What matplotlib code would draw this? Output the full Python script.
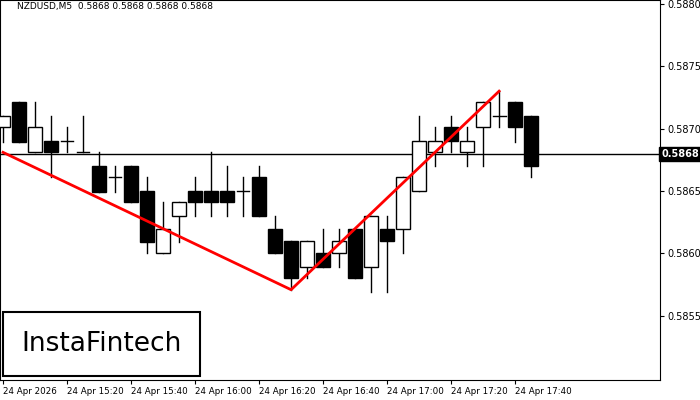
import matplotlib.pyplot as plt
from matplotlib.patches import Rectangle

# NZDUSD M5 candles
opens = [0.58701, 0.58721, 0.58681, 0.58690, 0.58690, 0.58681, 0.58670, 0.58661, 0.58670, 0.58650,
         0.58600, 0.58630, 0.58650, 0.58650, 0.58650, 0.58650, 0.58661, 0.58620, 0.58610, 0.58589,
         0.58600, 0.58600, 0.58620, 0.58589, 0.58620, 0.58620, 0.58650, 0.58681, 0.58701, 0.58681,
         0.58701, 0.58710, 0.58721, 0.58710]
highs = [0.58710, 0.58721, 0.58721, 0.58710, 0.58701, 0.58710, 0.58681, 0.58670, 0.58670, 0.58661,
         0.58641, 0.58641, 0.58661, 0.58681, 0.58670, 0.58661, 0.58670, 0.58630, 0.58610, 0.58610,
         0.58620, 0.58620, 0.58620, 0.58630, 0.58630, 0.58661, 0.58710, 0.58701, 0.58710, 0.58701,
         0.58721, 0.58730, 0.58721, 0.58710]
lows = [0.58689, 0.58689, 0.58681, 0.58661, 0.58681, 0.58681, 0.58649, 0.58649, 0.58641, 0.58600,
        0.58600, 0.58609, 0.58630, 0.58630, 0.58630, 0.58630, 0.58630, 0.58600, 0.58571, 0.58580,
        0.58589, 0.58589, 0.58580, 0.58569, 0.58569, 0.58600, 0.58650, 0.58670, 0.58681, 0.58670,
        0.58670, 0.58701, 0.58689, 0.58661]
closes = [0.58710, 0.58689, 0.58701, 0.58681, 0.58690, 0.58681, 0.58649, 0.58661, 0.58641, 0.58609,
          0.58620, 0.58641, 0.58641, 0.58641, 0.58641, 0.58650, 0.58630, 0.58600, 0.58580, 0.58610,
          0.58589, 0.58610, 0.58580, 0.58630, 0.58610, 0.58661, 0.58690, 0.58690, 0.58690, 0.58690,
          0.58721, 0.58710, 0.58701, 0.58670]

# pattern lines (bar index, price)
pattern_x = [0, 18, 31]
pattern_y = [0.58681, 0.58571, 0.58730]

current_price = 0.5868
price_ticks = [0.5855, 0.5860, 0.5865, 0.5870, 0.5875, 0.5880]
time_pos = [0, 4, 8, 12, 16, 20, 24, 28, 32]
time_labels = ['24 Apr 2026', '24 Apr 15:20', '24 Apr 15:40', '24 Apr 16:00', '24 Apr 16:20',
               '24 Apr 16:40', '24 Apr 17:00', '24 Apr 17:20', '24 Apr 17:40']

fig = plt.figure(figsize=(7, 4), dpi=100)
ax = fig.add_axes([0.0, 0.05, 0.943, 0.95])
ax.set_xlim(-0.19, 41.06)
ax.set_ylim(0.584987, 0.58803)

for i in range(len(opens)):
    o, h, l, c = opens[i], highs[i], lows[i], closes[i]
    ax.plot([i, i], [l, h], color='black', lw=1, zorder=2)
    lo, hi = min(o, c), max(o, c)
    if hi - lo < 0.000005:
        ax.plot([i - 0.4, i + 0.4], [o, o], color='black', lw=1, zorder=3)
    else:
        ax.add_patch(Rectangle((i - 0.45, lo), 0.9, hi - lo, facecolor='white' if c > o else 'black',
                               edgecolor='black', lw=1, zorder=3))

ax.axhline(current_price, color='black', lw=1, zorder=1)
ax.plot(pattern_x, pattern_y, color='#ff0000', lw=2, zorder=4)

ax.yaxis.tick_right()
ax.set_yticks(price_ticks)
ax.set_yticklabels(['%.4f' % p for p in price_ticks])
ax.set_xticks(time_pos)
ax.set_xticklabels(time_labels, ha='left')
ax.tick_params(axis='y', labelsize=7, length=3, direction='out', pad=2)
ax.tick_params(axis='x', labelsize=6.3, length=3, direction='out', pad=2)
ax.text(1.002, current_price, '%.4f' % current_price, transform=ax.get_yaxis_transform(),
        fontsize=7, color='white', va='center', ha='left', fontweight='bold',
        bbox=dict(boxstyle='square,pad=0.2', facecolor='black', edgecolor='black'))
ax.text(0.025, 0.995, 'NZDUSD,M5  0.5868 0.5868 0.5868 0.5868', transform=ax.transAxes,
        fontsize=6.5, va='top', ha='left')

# logo
ax.add_patch(Rectangle((0.005, 0.01), 0.298, 0.17, transform=ax.transAxes, facecolor='white',
                       edgecolor='black', lw=1.5, zorder=5))
ax.text(0.154, 0.095, 'InstaFintech', transform=ax.transAxes, fontsize=19, ha='center',
        va='center', zorder=6)

fig.savefig('out.png', dpi=100)
